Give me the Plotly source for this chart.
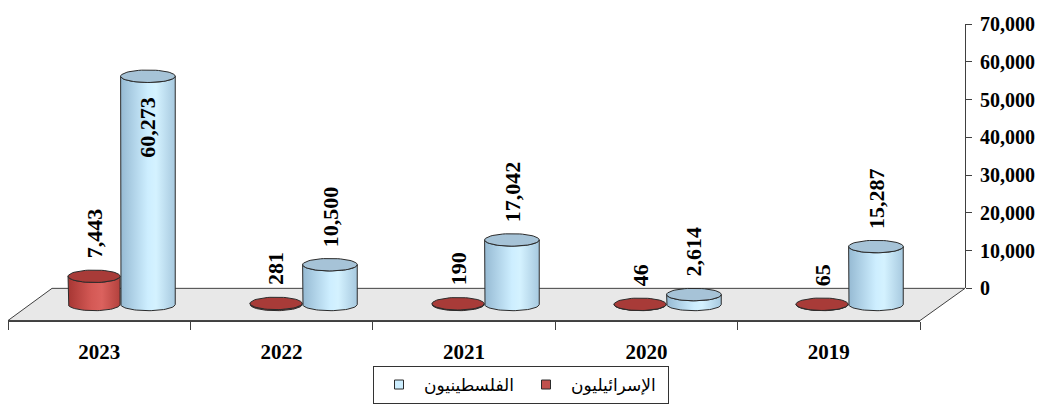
import numpy as np
import plotly.graph_objects as go

# ---------------- data ----------------
years = ["2023", "2022", "2021", "2020", "2019"]
israelis = [7443, 281, 190, 46, 65]
palestinians = [60273, 10500, 17042, 2614, 15287]
name_isr = "الإسرائيليون"
name_pal = "الفلسطينيون"
y_tick_vals = [0, 10000, 20000, 30000, 40000, 50000, 60000, 70000]

# ---------------- geometry helpers (pixel -> paper) ----------------
W, H = 1054, 412
def px(x):
    return x / W
def py(y):
    return 1 - y / H

PX_PER_UNIT = 0.004          # 40 px per 10,000
BASE_PX = 310                # baseline of cylinders (mid depth)
Y_RANGE = [-10000, 75000]
bar_y_dom = [py(BASE_PX - Y_RANGE[0] * PX_PER_UNIT), py(BASE_PX - Y_RANGE[1] * PX_PER_UNIT)]
bar_x_dom = [px(30), px(940)]

OFF = 0.148      # half distance between the two cylinders of a year
A_RED, A_BLUE = 0.143, 0.150   # cylinder half widths (x units)
B = 1650         # ellipse half height (y units)

RED_BODY = [[0, '#a63633'], [0.45, '#d45955'], [0.65, '#db625e'], [1, '#b3413d']]
RED_TOP = '#a83b38'
BLUE_BODY = [[0, '#96bad3'], [0.5, '#cdeeff'], [0.65, '#d4f2ff'], [1, '#a7c9df']]
BLUE_TOP = '#a6c3d7'
EDGE = '#2b2b2b'

def body(xc, a, v, n=40):
    t1 = np.linspace(np.pi, 2 * np.pi, n)
    t2 = np.linspace(2 * np.pi, np.pi, n)
    xs = [xc - a, xc - a] + list(xc + a * np.cos(t1)) + [xc + a] + list(xc + a * np.cos(t2))
    ys = [v, 0] + list(B * np.sin(t1)) + [v] + list(v + B * np.sin(t2))
    return xs, ys

def ellipse(xc, a, v, n=60):
    t = np.linspace(0, 2 * np.pi, n)
    return list(xc + a * np.cos(t)), list(v + B * np.sin(t))

fig = go.Figure()

series = [
    (israelis, -OFF, A_RED, RED_BODY, RED_TOP),
    (palestinians, OFF, A_BLUE, BLUE_BODY, BLUE_TOP),
]
annotations = []
for vals, off, a, body_cs, top_col in series:
    for i, v in enumerate(vals):
        xc = i + off
        bx, by = body(xc, a, v)
        fig.add_trace(go.Scatter(
            x=bx, y=by, mode='lines', fill='toself',
            fillgradient=dict(type='horizontal', colorscale=body_cs),
            line=dict(color=EDGE, width=1), showlegend=False, hoverinfo='skip',
            xaxis='x', yaxis='y'))
    for i, v in enumerate(vals):
        xc = i + off
        ex, ey = ellipse(xc, a, v)
        fig.add_trace(go.Scatter(
            x=ex, y=ey, mode='lines', fill='toself', fillcolor=top_col,
            line=dict(color=EDGE, width=1), showlegend=False, hoverinfo='skip',
            xaxis='x', yaxis='y'))
        inside = v > 55000
        annotations.append(dict(
            x=xc, y=v, xref='x', yref='y', text=f"{v:,}", showarrow=False,
            textangle=-90, xanchor='center',
            yanchor='top' if inside else 'bottom',
            yshift=-18 if inside else 16,
            font=dict(family='Liberation Serif', size=22, color='black', weight='bold')))

# invisible helper traces so the display axes are drawn
fig.add_trace(go.Scatter(x=years, y=[0] * len(years), xaxis='x2', yaxis='y2',
                         mode='markers', marker=dict(opacity=0), showlegend=False, hoverinfo='skip'))

# legend entries
fig.add_trace(go.Scatter(x=[None], y=[None], mode='markers', name=name_pal,
                         marker=dict(symbol='square', size=9, color='#cdeeff', line=dict(color=EDGE, width=1))))
fig.add_trace(go.Scatter(x=[None], y=[None], mode='markers', name=name_isr,
                         marker=dict(symbol='square', size=9, color='#c0504d', line=dict(color=EDGE, width=1))))

# floor (3-D base)
fl = [(8, 327), (52, 293), (965, 293), (920, 327)]
path = "M " + " L ".join(f"{px(x):.5f},{py(y):.5f}" for x, y in fl) + " Z"
shapes = [dict(type='path', path=path, xref='paper', yref='paper', layer='below',
               fillcolor='#e8e8e8', line=dict(color='#404040', width=1))]

fig.update_layout(
    width=W, height=H, autosize=False,
    margin=dict(l=0, r=0, t=0, b=0),
    paper_bgcolor='white', plot_bgcolor='rgba(0,0,0,0)',
    showlegend=True,
    shapes=shapes,
    annotations=annotations,
    xaxis=dict(domain=bar_x_dom, range=[-0.5, 4.5], visible=False, fixedrange=True),
    yaxis=dict(domain=bar_y_dom, range=Y_RANGE, visible=False, fixedrange=True),
    xaxis2=dict(domain=[px(8), px(920)], anchor='free', position=py(327),
                type='category', categoryarray=years, categoryorder='array',
                range=[-0.5, 4.5], showline=True, linecolor='#404040', linewidth=1,
                ticks='outside', tickson='boundaries', ticklen=8, tickcolor='#404040',
                ticklabelstandoff=12,
                showgrid=False, zeroline=False,
                tickfont=dict(family='Liberation Serif', size=21, color='black', weight='bold')),
    yaxis2=dict(domain=[py(293), py(14)], anchor='free', position=px(965), side='right',
                range=[0, 70000], tickvals=y_tick_vals, tickformat=',d',
                showline=True, linecolor='#404040', linewidth=1,
                ticks='outside', ticklen=6, tickcolor='#404040',
                ticklabelstandoff=4,
                showgrid=False, zeroline=False,
                tickfont=dict(family='Liberation Serif', size=20, color='black', weight='bold')),
    legend=dict(orientation='h', x=px(373), xanchor='left', y=py(375), yanchor='top',
                bgcolor='white', bordercolor='#333333', borderwidth=1,
                itemwidth=40, entrywidth=92,
                font=dict(family='DejaVu Sans', size=17, color='black')),
)

fig.write_html("out.html")
